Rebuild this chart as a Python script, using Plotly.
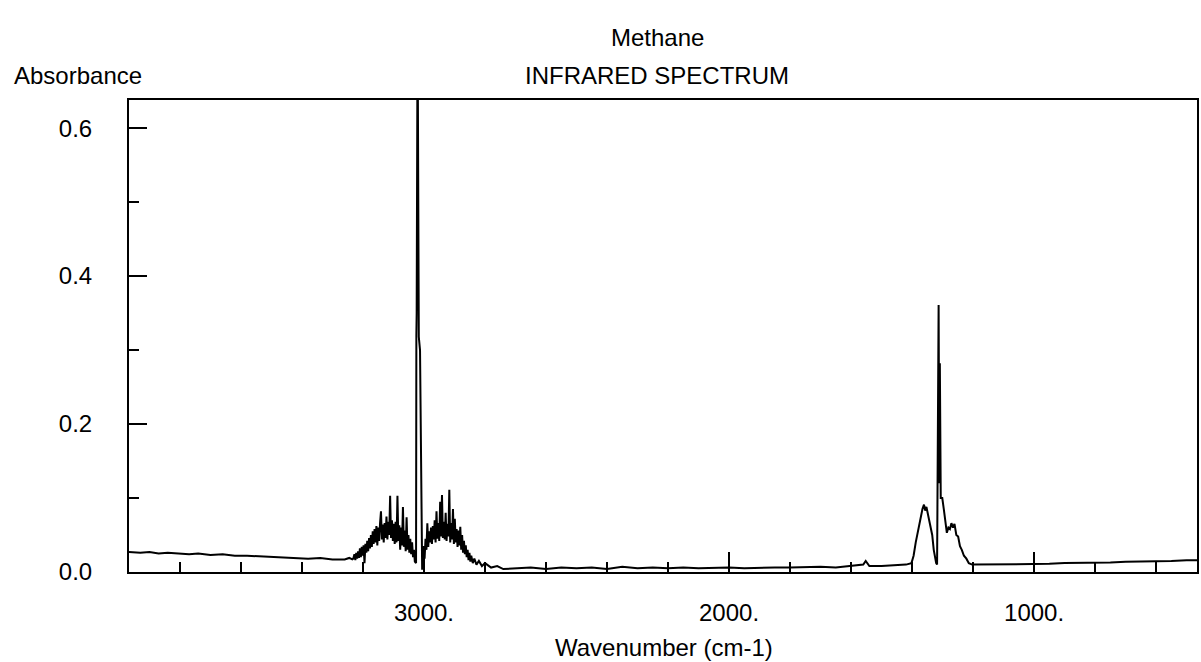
import plotly.graph_objects as go

# ---- data ----
baseline_left_wn = [3967, 3930, 3900, 3870, 3840, 3800, 3770, 3740, 3700, 3660, 3620, 3580,
                    3540, 3500, 3460, 3420, 3380, 3340, 3300, 3260, 3245, 3235]
baseline_left_a = [0.027, 0.026, 0.027, 0.025, 0.026, 0.025, 0.024, 0.025, 0.023, 0.024, 0.022, 0.022,
                   0.021, 0.020, 0.020, 0.019, 0.018, 0.019, 0.017, 0.017, 0.019, 0.017]

nu3_r_wn = [3232, 3228, 3225, 3222, 3219, 3216, 3213, 3210, 3207, 3204, 3201, 3198, 3195, 3192,
            3189, 3186, 3183, 3180, 3177, 3174, 3171, 3168, 3165, 3162, 3159, 3156, 3153, 3150,
            3147, 3144, 3141, 3138, 3135, 3132, 3129, 3126, 3123, 3120, 3117, 3114, 3111, 3108,
            3105, 3102, 3099, 3096, 3093, 3090, 3087, 3084, 3081, 3078, 3075, 3072, 3069, 3066,
            3063, 3060, 3057, 3054, 3051, 3048, 3045, 3042, 3039, 3036, 3033, 3030]
nu3_r_a = [0.018, 0.024, 0.016, 0.026, 0.018, 0.028, 0.019, 0.032, 0.020, 0.034, 0.022, 0.036, 0.012, 0.038,
           0.026, 0.042, 0.028, 0.046, 0.032, 0.050, 0.034, 0.055, 0.038, 0.058, 0.040, 0.062, 0.036, 0.060,
           0.042, 0.066, 0.082, 0.044, 0.064, 0.040, 0.066, 0.046, 0.075, 0.044, 0.068, 0.050, 0.103, 0.046,
           0.070, 0.042, 0.065, 0.038, 0.068, 0.040, 0.103, 0.042, 0.063, 0.030, 0.060, 0.036, 0.088, 0.034,
           0.056, 0.028, 0.074, 0.030, 0.050, 0.026, 0.045, 0.024, 0.040, 0.020, 0.030, 0.014]

nu3_q_wn = [3026, 3025, 3024, 3021, 3017, 3013, 3010, 3008, 3006]
nu3_q_a = [0.012, 0.320, 0.350, 0.750, 0.318, 0.300, 0.138, 0.138, 0.003]

nu3_p_wn = [3004, 3001, 2998, 2995, 2992, 2989, 2986, 2983, 2980, 2977, 2974, 2971, 2968, 2965,
            2962, 2959, 2956, 2953, 2950, 2947, 2944, 2941, 2938, 2935, 2932, 2929, 2926, 2923,
            2920, 2917, 2914, 2911, 2908, 2905, 2902, 2899, 2896, 2893, 2890, 2887, 2884, 2881,
            2878, 2875, 2872, 2869, 2866, 2863, 2860, 2857, 2854, 2851, 2848, 2845, 2840, 2835,
            2828, 2820, 2810, 2800, 2780, 2760, 2740]
nu3_p_a = [0.020, 0.035, 0.018, 0.045, 0.030, 0.066, 0.034, 0.055, 0.040, 0.060, 0.038, 0.062, 0.044, 0.070,
           0.040, 0.082, 0.045, 0.066, 0.042, 0.095, 0.048, 0.104, 0.046, 0.068, 0.044, 0.080, 0.042, 0.065,
           0.048, 0.111, 0.040, 0.066, 0.044, 0.085, 0.038, 0.072, 0.040, 0.058, 0.034, 0.056, 0.036, 0.061,
           0.030, 0.050, 0.026, 0.042, 0.024, 0.036, 0.020, 0.030, 0.016, 0.026, 0.014, 0.022, 0.012, 0.018,
           0.010, 0.015, 0.008, 0.012, 0.006, 0.008, 0.004]

mid_wn = [2700, 2650, 2600, 2550, 2500, 2450, 2400, 2350, 2300, 2250, 2200, 2150, 2100, 2050,
          2000, 1950, 1900, 1850, 1800, 1750, 1700, 1650, 1600, 1560, 1552, 1540, 1500, 1450, 1420]
mid_a = [0.005, 0.006, 0.004, 0.006, 0.005, 0.006, 0.004, 0.007, 0.005, 0.006, 0.005, 0.006, 0.005, 0.006,
         0.006, 0.005, 0.006, 0.006, 0.006, 0.007, 0.007, 0.006, 0.008, 0.010, 0.015, 0.008, 0.008, 0.009, 0.010]

nu4_wn = [1402, 1395, 1388, 1380, 1372, 1366, 1361, 1357, 1353, 1349, 1344, 1339, 1334, 1329,
          1325, 1321, 1318, 1313, 1311, 1309, 1306, 1301, 1296, 1291, 1286, 1281, 1276, 1271,
          1266, 1261, 1255, 1249, 1243, 1237, 1230, 1222, 1214, 1203]
nu4_a = [0.012, 0.022, 0.040, 0.058, 0.072, 0.085, 0.091, 0.083, 0.088, 0.080, 0.070, 0.060, 0.050, 0.030,
         0.018, 0.012, 0.010, 0.361, 0.120, 0.282, 0.100, 0.100, 0.085, 0.070, 0.053, 0.060, 0.058, 0.066,
         0.060, 0.065, 0.050, 0.048, 0.035, 0.030, 0.022, 0.018, 0.012, 0.010]

right_wn = [1150, 1100, 1050, 1000, 950, 900, 850, 800, 750, 700, 650, 600, 550, 500, 466]
right_a = [0.010, 0.010, 0.011, 0.011, 0.011, 0.012, 0.012, 0.013, 0.013, 0.014, 0.014, 0.015, 0.015, 0.016, 0.016]

x_tickvals = [3000, 2000, 1000]
x_ticktext = ["3000.", "2000.", "1000."]
y_tickvals = [0.0, 0.2, 0.4, 0.6]
y_ticktext = ["0.0", "0.2", "0.4", "0.6"]

wn = baseline_left_wn + nu3_r_wn + nu3_q_wn + nu3_p_wn + mid_wn + nu4_wn + right_wn
absb = baseline_left_a + nu3_r_a + nu3_q_a + nu3_p_a + mid_a + nu4_a + right_a

FONT = "Liberation Sans, Arial, sans-serif"

fig = go.Figure()
fig.add_trace(go.Scatter(x=wn, y=absb, mode="lines",
                         line=dict(color="black", width=2), showlegend=False,
                         hoverinfo="skip"))

fig.update_layout(
    width=1201, height=662,
    margin=dict(l=129, r=2, t=100, b=90),
    paper_bgcolor="white", plot_bgcolor="white",
    font=dict(family=FONT, size=24, color="black"),
    showlegend=False,
)
fig.update_xaxes(
    range=[3967, 466], showgrid=False, zeroline=False,
    showline=True, linecolor="black", linewidth=2, mirror=True,
    tickmode="array", tickvals=x_tickvals, ticktext=x_ticktext,
    ticks="inside", ticklen=20, tickwidth=2, tickcolor="black",
    ticklabelstandoff=18,
    minor=dict(tickmode="linear", tick0=0, dtick=200, ticks="inside", ticklen=10,
               tickwidth=2, tickcolor="black", showgrid=False),
)
fig.update_yaxes(
    range=[0, 0.638], showgrid=False, zeroline=False,
    showline=True, linecolor="black", linewidth=2, mirror=True,
    tickmode="array", tickvals=y_tickvals, ticktext=y_ticktext,
    ticks="inside", ticklen=18, tickwidth=2, tickcolor="black",
    ticklabelstandoff=30,
    minor=dict(tickmode="linear", tick0=0, dtick=0.1, ticks="inside", ticklen=10,
               tickwidth=2, tickcolor="black", showgrid=False),
)

def px_x(xp):
    return (xp - 129) / 1070.0

def px_y(yp):
    return (572 - yp) / 472.0

annots = [
    ("Methane", 658, 38),
    ("INFRARED SPECTRUM", 658, 76),
    ("Absorbance", 78, 76),
    ("Wavenumber (cm-1)", 665, 647),
]
for text, xp, yp in annots:
    fig.add_annotation(text=text, x=px_x(xp), y=px_y(yp), xref="paper", yref="paper",
                       xanchor="center", yanchor="middle", showarrow=False,
                       font=dict(family=FONT, size=24, color="black"))

fig.write_html("out.html")
